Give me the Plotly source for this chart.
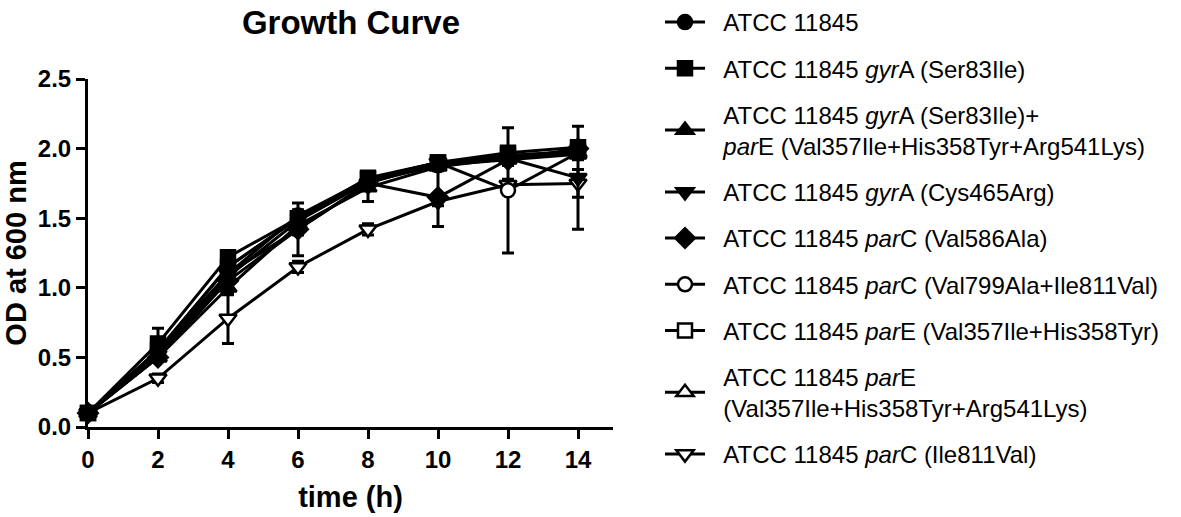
import plotly.graph_objects as go

time_h = [0, 2, 4, 6, 8, 10, 12, 14]

names = [
    "ATCC 11845",
    "ATCC 11845 <i>gyr</i>A (Ser83Ile)",
    "ATCC 11845 <i>gyr</i>A (Ser83Ile)+<br><i>par</i>E (Val357Ile+His358Tyr+Arg541Lys)",
    "ATCC 11845 <i>gyr</i>A (Cys465Arg)",
    "ATCC 11845 <i>par</i>C (Val586Ala)",
    "ATCC 11845 <i>par</i>C (Val799Ala+Ile811Val)",
    "ATCC 11845 <i>par</i>E (Val357Ile+His358Tyr)",
    "ATCC 11845 <i>par</i>E<br>(Val357Ile+His358Tyr+Arg541Lys)",
    "ATCC 11845 <i>par</i>C (Ile811Val)",
]

od_wt = [0.10, 0.55, 1.15, 1.50, 1.77, 1.88, 1.95, 1.98]
od_gyrA_s83i = [0.10, 0.60, 1.22, 1.50, 1.79, 1.90, 1.97, 2.01]
od_gyrA_parE = [0.10, 0.50, 1.00, 1.45, 1.72, 1.87, 1.93, 1.97]
od_gyrA_c465r = [0.10, 0.52, 1.10, 1.42, 1.75, 1.90, 1.93, 1.79]
od_parC_v586a = [0.10, 0.50, 1.05, 1.42, 1.75, 1.65, 1.92, 2.00]
od_parC_v799a = [0.10, 0.55, 1.10, 1.52, 1.78, 1.90, 1.70, 1.97]
od_parE_v357i = [0.10, 0.55, 1.15, 1.50, 1.78, 1.90, 1.95, 1.98]
od_parE_triple = [0.10, 0.50, 1.08, 1.48, 1.76, 1.88, 1.92, 1.96]
od_parC_i811v = [0.10, 0.35, 0.78, 1.15, 1.42, 1.62, 1.74, 1.75]

sd_wt = [0.01, 0.03, 0.03, 0.04, 0.03, 0.03, 0.04, 0.04]
sd_gyrA_s83i = [0.01, 0.11, 0.04, 0.04, 0.04, 0.03, 0.04, 0.04]
sd_gyrA_parE = [0.01, 0.03, 0.05, 0.04, 0.10, 0.03, 0.04, 0.04]
sd_gyrA_c465r = [0.01, 0.03, 0.04, 0.04, 0.04, 0.03, 0.04, 0.37]
sd_parC_v586a = [0.01, 0.03, 0.04, 0.19, 0.04, 0.21, 0.04, 0.04]
sd_parC_v799a = [0.01, 0.03, 0.04, 0.04, 0.04, 0.03, 0.45, 0.04]
sd_parE_v357i = [0.01, 0.03, 0.04, 0.04, 0.04, 0.03, 0.04, 0.04]
sd_parE_triple = [0.01, 0.03, 0.04, 0.04, 0.04, 0.03, 0.04, 0.04]
sd_parC_i811v = [0.01, 0.03, 0.18, 0.04, 0.04, 0.03, 0.04, 0.10]

series = [od_wt, od_gyrA_s83i, od_gyrA_parE, od_gyrA_c465r, od_parC_v586a,
          od_parC_v799a, od_parE_v357i, od_parE_triple, od_parC_i811v]
errors = [sd_wt, sd_gyrA_s83i, sd_gyrA_parE, sd_gyrA_c465r, sd_parC_v586a,
          sd_parC_v799a, sd_parE_v357i, sd_parE_triple, sd_parC_i811v]
symbols = ["circle", "square", "triangle-up", "triangle-down", "diamond",
           "circle", "square", "triangle-up", "triangle-down"]
filled = [True, True, True, True, True, False, False, False, False]
sizes = [14, 14, 15, 15, 15, 14, 14, 15, 15]

PAD = "\u00a0\u00a0"


def legend_label(s):
    return "<br>".join(PAD + part for part in s.split("<br>"))


FONT = "Liberation Sans, Arial, sans-serif"

fig = go.Figure()
# add in reverse so the first series are drawn on top; legendrank keeps legend order
for i in reversed(range(len(series))):
    fig.add_trace(go.Scatter(
        x=time_h, y=series[i], name=legend_label(names[i]), mode="lines+markers",
        legendgroup="g%d" % i, legendrank=i + 1,
        line=dict(color="black", width=3),
        marker=dict(symbol=symbols[i], size=sizes[i],
                    color="black" if filled[i] else "white",
                    line=dict(color="black", width=2.5)),
        error_y=dict(type="data", array=errors[i], visible=True,
                     color="black", thickness=3, width=6),
        cliponaxis=False,
    ))

fig.update_layout(
    width=1181, height=517,
    margin=dict(l=88, r=568, t=79, b=90),
    paper_bgcolor="white", plot_bgcolor="white",
    font=dict(family=FONT, color="black"),
    title=dict(text="Growth Curve", x=(351 / 1181), xanchor="center",
               y=0.957, yanchor="middle",
               font=dict(family=FONT, size=33, color="black", weight="bold")),
    showlegend=True,
    legend=dict(xref="container", yref="container",
                x=660 / 1181, xanchor="left", y=1.0, yanchor="top",
                font=dict(family=FONT, size=24, color="black"),
                tracegroupgap=12, traceorder="grouped", itemwidth=40,
                maxheight=517,
                bgcolor="rgba(0,0,0,0)"),
    xaxis=dict(range=[0, 15], tickvals=[0, 2, 4, 6, 8, 10, 12, 14],
               showline=True, linewidth=3, linecolor="black",
               ticks="outside", ticklen=9, tickwidth=3, tickcolor="black",
               showgrid=False, zeroline=False, automargin=False,
               tickfont=dict(family=FONT, size=24, color="black", weight="bold"),
               title=dict(text="time (h)",
                          font=dict(family=FONT, size=29, color="black", weight="bold"))),
    yaxis=dict(range=[0, 2.5], tickvals=[0, 0.5, 1.0, 1.5, 2.0, 2.5], tickformat=".1f",
               showline=True, linewidth=3, linecolor="black",
               ticks="outside", ticklen=9, tickwidth=3, tickcolor="black",
               showgrid=False, zeroline=False, automargin=False,
               tickfont=dict(family=FONT, size=24, color="black", weight="bold"),
               title=dict(text="OD at 600 nm",
                          font=dict(family=FONT, size=29, color="black", weight="bold"))),
)

fig.write_html("out.html", config={"displayModeBar": False})

# remove the browser's default page margin so the figure sits at the window origin
with open("out.html", "r", encoding="utf-8") as f:
    html = f.read()
html = html.replace("<head>", "<head><style>html,body{margin:0;padding:0;overflow:hidden;}</style>", 1)
with open("out.html", "w", encoding="utf-8") as f:
    f.write(html)
